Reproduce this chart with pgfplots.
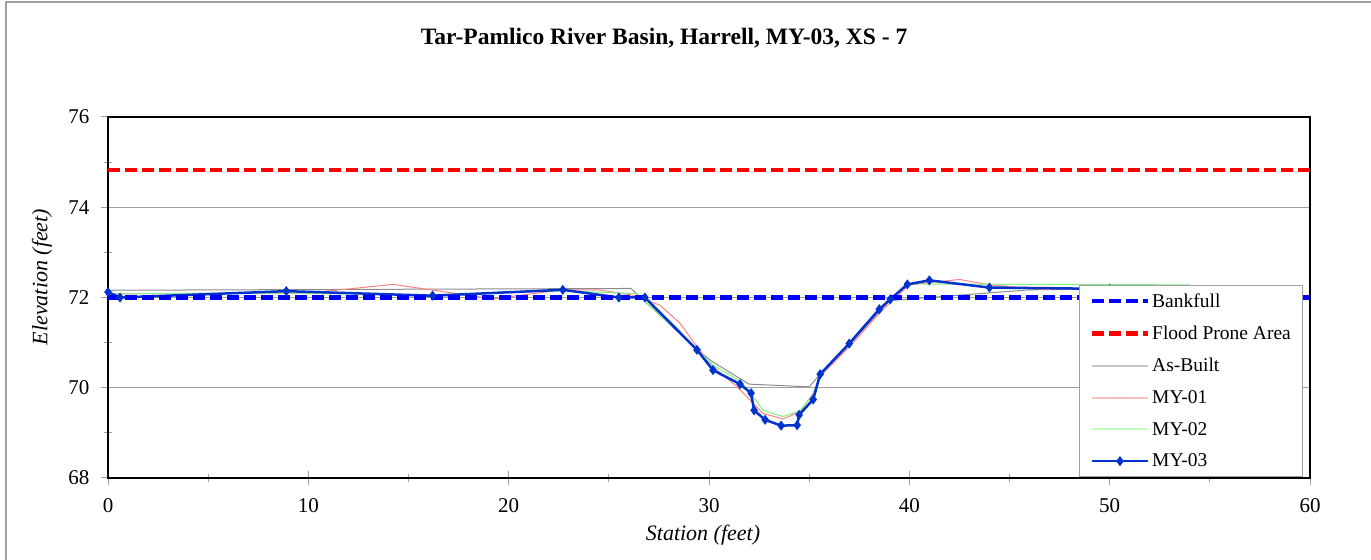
\documentclass[border=0pt]{standalone}
\usepackage{pgfplots}
\pgfplotsset{compat=1.18}
\usepackage{fontspec}
\setmainfont{Liberation Serif}
\definecolor{myblue}{RGB}{0,51,204}
\definecolor{asb}{RGB}{140,140,140}
\definecolor{my1}{RGB}{255,130,130}
\definecolor{my2}{RGB}{130,240,130}
\definecolor{gridc}{RGB}{160,160,160}
\definecolor{lasb}{RGB}{200,200,200}
\definecolor{lmy1}{RGB}{255,190,190}
\definecolor{lmy2}{RGB}{190,255,190}
\begin{document}
\begin{tikzpicture}[x=1bp,y=1bp]
\path[use as bounding box] (0,0) rectangle (1371,560);
\draw[gridc, line width=1.5bp] (6,0) -- (6,558) -- (1371,558);
\node[anchor=base, font=\bfseries\fontsize{23.5bp}{26bp}\selectfont] at (664,515) {Tar-Pamlico River Basin, Harrell, MY-03, XS - 7};
\node[anchor=base, font=\itshape\fontsize{22bp}{24bp}\selectfont] at (703,19) {Station (feet)};
\node[rotate=90, font=\itshape\fontsize{22bp}{24bp}\selectfont] at (42,283) {Elevation (feet)};
\begin{axis}[
  at={(108bp,82bp)}, anchor=south west,
  scale only axis, width=1202bp, height=361bp,
  xmin=0, xmax=60, ymin=68, ymax=76,
  xtick={0,10,...,60}, ytick={68,70,...,76},
  minor xtick={5,15,...,55}, minor ytick={69,71,73,75},
  tick pos=left,
  tick align=center, major tick length=14bp, minor tick length=8bp,
  tick style={gridc, line width=1bp},
  ymajorgrids, major grid style={gridc, line width=1bp},
  axis line style={black, line width=2bp},
  /pgf/number format/assume math mode=true,
  ticklabel style={font=\fontsize{21bp}{24bp}\selectfont},
  xticklabel style={yshift=-10bp},
  yticklabel style={xshift=-8bp},
  legend style={at={(0.808,0.003)}, anchor=south west, draw=gridc, fill=white,
     font=\fontsize{19.5bp}{22bp}\selectfont, row sep=13.3bp, inner xsep=10bp, inner ysep=6bp, line width=1bp},
  legend cell align=left,
  legend image code/.code={\draw[mark repeat=2,mark phase=2,#1] plot coordinates {(0bp,0bp) (28bp,0bp) (56bp,0bp)};},
]
\addlegendimage{blue, line width=4.5bp, dash pattern=on 12bp off 5bp}
\addlegendentry{Bankfull}
\addlegendimage{red, line width=4.5bp, dash pattern=on 12bp off 5bp}
\addlegendentry{Flood Prone Area}
\addlegendimage{lasb, line width=2bp}
\addlegendentry{As-Built}
\addlegendimage{lmy1, line width=2bp}
\addlegendentry{MY-01}
\addlegendimage{lmy2, line width=2bp}
\addlegendentry{MY-02}
\addlegendimage{myblue, line width=2.5bp, mark=diamond*, mark size=3bp}
\addlegendentry{MY-03}

\addplot[forget plot, asb, line width=1bp] coordinates {
(0,72.16) (26.1,72.2) (29.4,70.85) (30.1,70.6) (32.0,70.08) (35.0,70.02)
(35.55,70.3) (37.0,70.95) (39.0,71.93) (41.0,72.0) (46.0,72.17) (54,72.2)};
\addplot[forget plot, my1, line width=1bp] coordinates {
(0,72.08) (10,72.1) (14.25,72.29) (19.2,71.97) (22.7,72.17) (24.5,72.17)
(26.2,72.05) (27.55,71.83) (28.55,71.43) (29.4,70.91) (30.2,70.47) (31.4,70.02)
(32.05,69.73) (32.7,69.43) (33.7,69.31) (34.55,69.47) (35.2,69.88) (35.55,70.25)
(37.2,71.0) (38.6,71.7) (40.0,72.28) (42.5,72.40) (44.0,72.28) (46.5,72.18) (54,72.17)};
\addplot[forget plot, my2, line width=1bp] coordinates {
(0,72.08) (8.9,72.1) (16.2,72.05) (22.7,72.15) (25.5,72.1) (26.4,72.08)
(29.4,70.86) (30.2,70.5) (31.55,70.15) (32.2,69.8) (32.7,69.5) (33.7,69.36)
(34.55,69.49) (35.2,69.85) (35.55,70.27) (37.0,70.98) (38.5,71.74) (39.9,72.3) (54,72.28)};
\addplot[forget plot, myblue, line width=2.5bp, mark=diamond*, mark size=3bp] coordinates {
(0,72.12) (0.6,72.00) (8.9,72.14) (16.2,72.04) (22.7,72.17) (25.5,72.00)
(26.8,72.00) (29.4,70.84) (30.2,70.39) (31.55,70.08) (32.1,69.88) (32.25,69.50)
(32.8,69.29) (33.6,69.16) (34.4,69.17) (34.5,69.40) (35.2,69.74) (35.55,70.30)
(37.0,70.98) (38.5,71.74) (39.05,71.96) (39.9,72.29) (41.0,72.38) (44.0,72.22) (50,72.19)};
\addplot[forget plot, blue, line width=4.5bp, dash pattern=on 12bp off 5bp] coordinates {(0,72.0) (60,72.0)};
\addplot[forget plot, red, line width=4.5bp, dash pattern=on 12bp off 5bp] coordinates {(0,74.83) (60,74.83)};
\end{axis}
\end{tikzpicture}
\end{document}
